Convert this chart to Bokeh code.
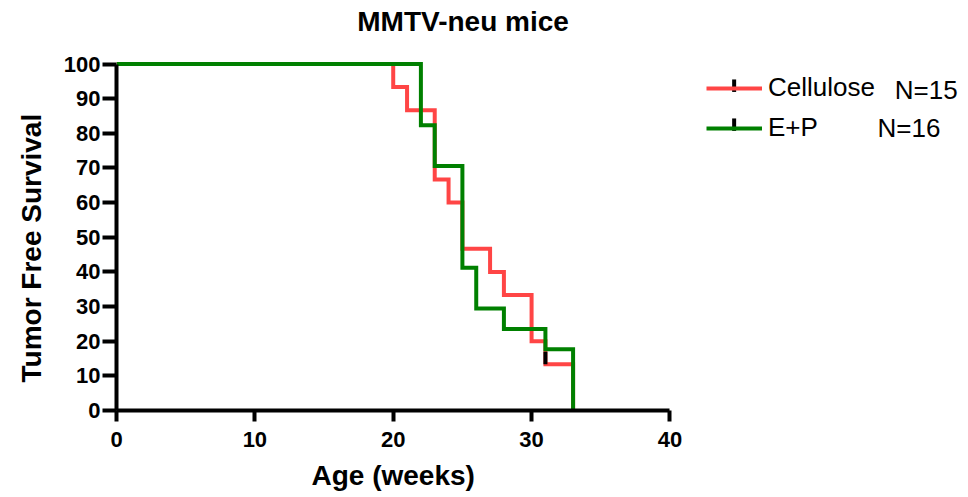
from bokeh.plotting import figure
from bokeh.models import Range1d, FixedTicker, Legend, LegendItem, Label, Title
from bokeh.embed import file_html
from bokeh.resources import INLINE

# ---- data ----
cellulose_weeks = [0, 20, 21, 23, 24, 25, 27, 28, 30, 31, 33]
cellulose_surv = [100, 93.33, 86.67, 66.67, 60.0, 46.67, 40.0, 33.33, 20.0, 13.33, 0]
ep_weeks = [0, 22, 23, 25, 26, 28, 31, 33]
ep_surv = [100, 82.35, 70.59, 41.18, 29.41, 23.53, 17.65, 0]
censor_weeks = [31]
censor_surv = [13.33]
x_ticks = [0, 10, 20, 30, 40]
y_ticks = [0, 10, 20, 30, 40, 50, 60, 70, 80, 90, 100]
series_labels = ["Cellulose", "E+P"]
n_labels = ["N=15", "N=16"]
title_text = "MMTV-neu mice"
x_label = "Age (weeks)"
y_label = "Tumor Free Survival"

RED = "#FF4545"
GREEN = "#008000"
FONT = "Liberation Sans"
CENSOR_LEN = 3.6

# legend / annotation placement (style, in data units of the extended frame)
LEG_TICK_X = 44.64
LEG_ROW_Y = [92.64, 81.39]
N_LABEL_X = [56.25, 55.0]
TITLE_POS = (25.05, 112.3)

# The frame also covers the legend and title area, so that annotations placed there
# are not clipped; the axis lines are bounded to the data extents.
p = figure(frame_width=844, frame_height=410,
           x_range=Range1d(0, 61), y_range=Range1d(0, 118.33),
           output_backend="svg", toolbar_location=None,
           min_border_left=116, min_border_right=0,
           min_border_top=0, min_border_bottom=80)

p.xgrid.visible = False
p.ygrid.visible = False
p.outline_line_color = None

for ax in (p.xaxis[0], p.yaxis[0]):
    ax.axis_line_width = 4
    ax.major_tick_line_width = 4
    ax.major_tick_in = 0
    ax.minor_tick_line_color = None
    ax.major_label_text_font = FONT
    ax.major_label_text_font_style = "bold"
    ax.major_label_text_font_size = "22px"
    ax.major_label_text_color = "black"

p.xaxis.ticker = FixedTicker(ticks=x_ticks)
p.yaxis.ticker = FixedTicker(ticks=y_ticks)
p.xaxis.bounds = (0, 40)
p.yaxis.bounds = (0, 100)
p.xaxis.major_tick_out = 11
p.yaxis.major_tick_out = 14
p.xaxis.major_label_standoff = 10
p.yaxis.major_label_standoff = 2

# axis titles as side-panel titles so they can be centred on the 0..40 / 0..100 span
p.add_layout(Title(text=x_label, align="left", offset=195, standoff=16,
                   text_font=FONT, text_font_size="28px", text_font_style="bold",
                   text_color="black"), "below")
p.add_layout(Title(text=y_label, align="left", offset=28, standoff=27,
                   text_font=FONT, text_font_size="28px", text_font_style="bold",
                   text_color="black"), "left")

r_red = p.step(cellulose_weeks, cellulose_surv, mode="after", line_color=RED,
               line_width=4, line_join="miter")
p.segment(x0=censor_weeks, y0=censor_surv, x1=censor_weeks,
          y1=[v + CENSOR_LEN for v in censor_surv], line_color="black", line_width=4)
r_green = p.step(ep_weeks, ep_surv, mode="after", line_color=GREEN,
                 line_width=4, line_join="miter")

legend = Legend(items=[LegendItem(label=series_labels[0], renderers=[r_red]),
                       LegendItem(label=series_labels[1], renderers=[r_green])],
                location=(590, 267), glyph_width=56, glyph_height=30, label_height=30,
                label_standoff=6, spacing=9, padding=0, margin=0,
                border_line_color=None, background_fill_alpha=0,
                label_text_font=FONT, label_text_font_size="26px",
                label_text_color="black", label_text_baseline="middle")
p.add_layout(legend)

# black censor ticks on the legend lines
leg_ticks = p.segment(x0=[LEG_TICK_X] * 2, y0=[y - 0.7 for y in LEG_ROW_Y],
                      x1=[LEG_TICK_X] * 2, y1=[y + 2.9 for y in LEG_ROW_Y],
                      line_color="black", line_width=4)
leg_ticks.level = "overlay"

for txt, lx, ly in zip(n_labels, N_LABEL_X, LEG_ROW_Y):
    p.add_layout(Label(x=lx, y=ly, text=txt, text_baseline="middle",
                       text_font=FONT, text_font_size="26px", text_color="black"))

p.add_layout(Label(x=TITLE_POS[0], y=TITLE_POS[1], text=title_text, text_align="center",
                   text_baseline="alphabetic", text_font=FONT, text_font_size="28px",
                   text_font_style="bold", text_color="black"))

open("out.html", "w").write(file_html(p, INLINE))
